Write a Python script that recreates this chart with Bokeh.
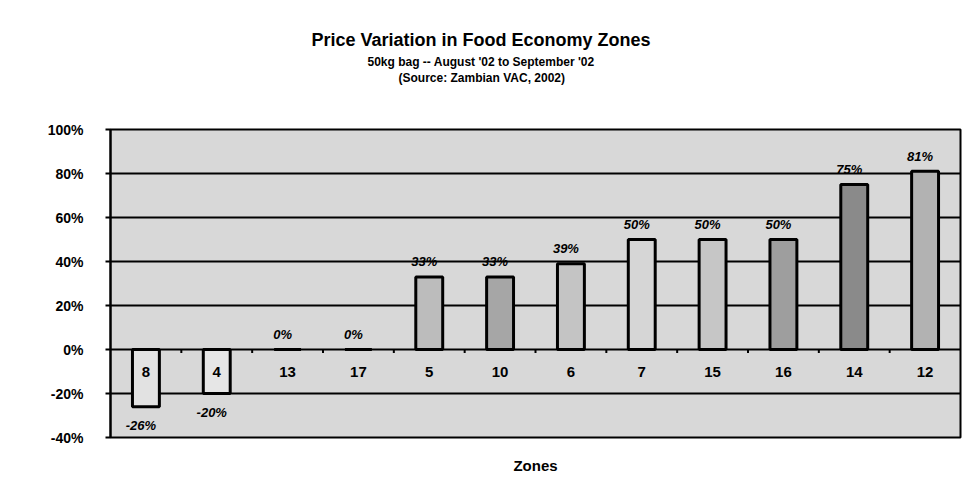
from bokeh.plotting import figure
from bokeh.models import ColumnDataSource, FixedTicker, PrintfTickFormatter, Title
from bokeh.embed import file_html
from bokeh.resources import INLINE
from bokeh.core.properties import value

zones = ["8", "4", "13", "17", "5", "10", "6", "7", "15", "16", "14", "12"]
change_pct = [-26, -20, 0, 0, 33, 33, 39, 50, 50, 50, 75, 81]
y_ticks = [-40, -20, 0, 20, 40, 60, 80, 100]

title_text = "Price Variation in Food Economy Zones"
subtitle_text = "50kg bag -- August '02 to September '02"
source_text = "(Source: Zambian VAC, 2002)"
x_title = "Zones"

bar_colors = ["#e2e2e2", "#e6e6e6", "#d0d0d0", "#d0d0d0", "#bcbcbc", "#a6a6a6",
              "#c4c4c4", "#d6d6d6", "#c6c6c6", "#9e9e9e", "#8a8a8a", "#b2b2b2"]

FONT = "Liberation Sans"

src = ColumnDataSource(dict(
    zone=zones, val=change_pct, color=bar_colors,
    mid=[-10] * len(zones),
))
pos = ColumnDataSource(dict(
    zone=[z for z, v in zip(zones, change_pct) if v >= 0],
    val=[v for v in change_pct if v >= 0],
    lab=[f"{v}%" for v in change_pct if v >= 0],
))
neg = ColumnDataSource(dict(
    zone=[z for z, v in zip(zones, change_pct) if v < 0],
    val=[v for v in change_pct if v < 0],
    lab=[f"{v}%" for v in change_pct if v < 0],
))

p = figure(width=962, height=490, x_range=zones, y_range=(-40, 100),
           output_backend="svg", toolbar_location=None,
           min_border_left=110, min_border_right=2, min_border_top=129,
           min_border_bottom=53)

p.background_fill_color = "#d8d8d8"
p.border_fill_color = "white"
p.outline_line_color = "black"
p.outline_line_width = 2

p.xaxis.visible = False
p.xgrid.grid_line_color = None
p.ygrid.grid_line_color = "black"
p.ygrid.grid_line_width = 2
p.ygrid.ticker = FixedTicker(ticks=y_ticks)

ax = p.yaxis[0]
ax.ticker = FixedTicker(ticks=y_ticks)
ax.formatter = PrintfTickFormatter(format="%d%%")
ax.axis_line_color = "black"
ax.axis_line_width = 2
ax.major_tick_line_color = "black"
ax.major_tick_line_width = 2
ax.major_tick_out = 5
ax.major_tick_in = 0
ax.minor_tick_line_color = None
ax.major_label_standoff = 22
ax.major_label_text_font = FONT
ax.major_label_text_font_style = "bold"
ax.major_label_text_font_size = "14px"
ax.major_label_text_color = "black"

# category-axis tick marks at the boundaries between zones, on the 0 line
bounds = [(z, 0.5) for z in zones[:-1]]
p.segment(x0=bounds, x1=bounds, y0=[0] * len(bounds), y1=[-1.6] * len(bounds),
          line_color="black", line_width=2)

p.vbar(x="zone", top="val", bottom=0, width=0.38, source=src,
       fill_color="color", line_color="black", line_width=3)

# category labels inside the plot
p.text(x="zone", y="mid", text="zone", source=src, text_align="center",
       text_baseline="middle", text_font=value(FONT), text_font_style="bold",
       text_font_size="15px", text_color="black")

# value labels
p.text(x="zone", y="val", text="lab", source=pos, text_align="center",
       text_baseline="middle", y_offset=-15, x_offset=-5, text_font=value(FONT),
       text_font_style="bold italic", text_font_size="13px", text_color="black")
p.text(x="zone", y="val", text="lab", source=neg, text_align="center",
       text_baseline="middle", y_offset=19, x_offset=-5, text_font=value(FONT),
       text_font_style="bold italic", text_font_size="13px", text_color="black")

# titles (stacked outward from the frame); first one is a blank spacer
p.add_layout(Title(text=" ", standoff=29, text_font=FONT, text_font_size="12px",
                   padding=0), "above")
p.add_layout(Title(text=source_text, align="left", offset=288, standoff=0,
                   text_font=FONT, text_font_style="bold", text_font_size="12px",
                   text_color="black", padding=0), "above")
p.add_layout(Title(text=subtitle_text, align="left", offset=257, standoff=0,
                   text_font=FONT, text_font_style="bold", text_font_size="12px",
                   text_color="black", padding=0), "above")
p.add_layout(Title(text=title_text, align="left", offset=201, standoff=6,
                   text_font=FONT, text_font_style="bold", text_font_size="18px",
                   text_color="black", padding=0), "above")
p.add_layout(Title(text=x_title, align="center", standoff=34,
                   text_font=FONT, text_font_style="bold", text_font_size="15px",
                   text_color="black", padding=0), "below")

open("out.html", "w").write(file_html(p, INLINE))
